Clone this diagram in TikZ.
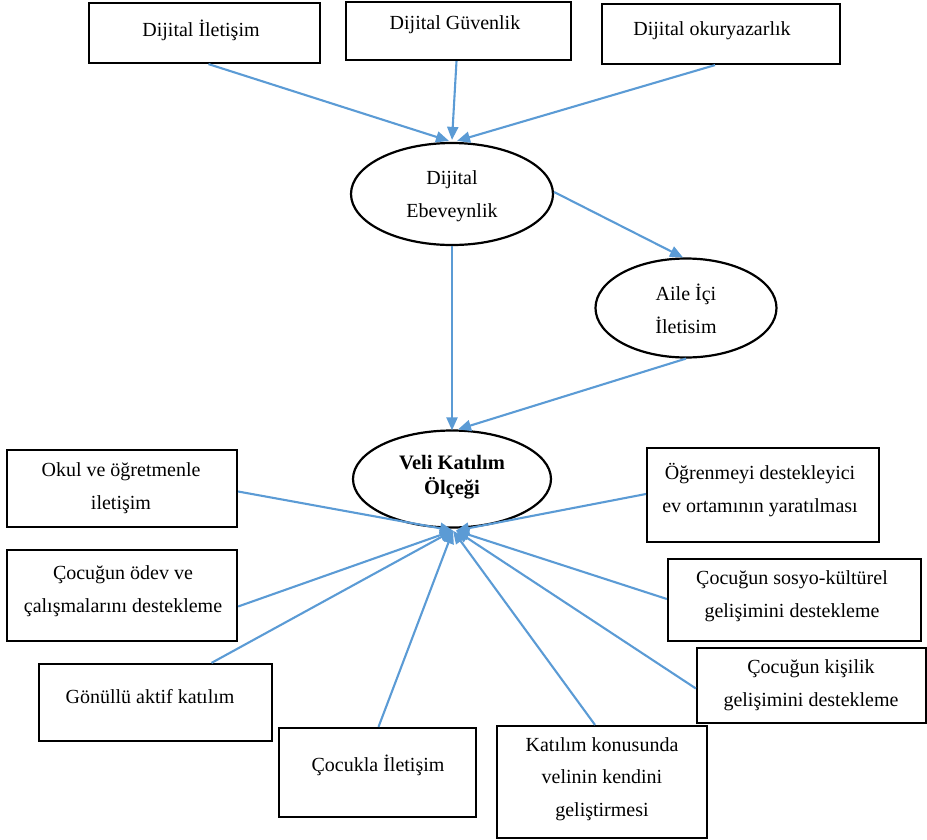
\documentclass[tikz,border=0pt]{standalone}
\usepackage{fontspec}
\setmainfont{Liberation Serif}
\usetikzlibrary{arrows.meta,shapes.geometric,calc}
\definecolor{linkblue}{HTML}{5B9BD5}
\tikzset{
  box/.style={draw=black, line width=2.2pt, rectangle, inner sep=0pt},
  oval/.style={draw=black, line width=2.2pt, ellipse, inner sep=0pt},
  txt/.style={font=\fontsize{20}{32.5}\selectfont, align=center, inner sep=0pt},
  arr/.style={draw=linkblue, line width=2.1pt, -{Triangle[length=13pt,width=11pt]}}
}
\newcommand{\boxat}[5]{% name, x1, y1, x2, y2
  \node[box, minimum width={#4-#2}, minimum height={#5-#3}] (#1) at ({(#2+#4)/2},{(#3+#5)/2}) {};}
\begin{document}
\begin{tikzpicture}[x=1pt,y=-1pt]
\useasboundingbox (0,0) rectangle (927,839);

% top row: the three digital components
\boxat{ilet}{89}{3}{320}{63}
\node[txt] (iletT) at (201,30) {Dijital İletişim};
\boxat{guv}{346}{2}{571}{60}
\node[txt] (guvT) at (455,25) {Dijital Güvenlik};
\boxat{okur}{602}{4}{840}{64}
\node[txt] (okurT) at (712,31) {Dijital okuryazarlık};

% ellipses
\node[oval, minimum width=202, minimum height=102] (ebe) at (452,194) {};
\node[txt] (ebeT) at (452,196) {Dijital\\Ebeveynlik};
\node[oval, minimum width=181, minimum height=99] (aile) at (686,308) {};
\node[txt] (aileT) at (686,309) {Aile İçi\\İletisim};
\node[oval, minimum width=198, minimum height=97] (veli) at (452,479) {};
\node[txt, font=\fontsize{20.5}{25}\selectfont\bfseries] (veliT) at (452,477) {Veli Katılım\\Ölçeği};

% left boxes
\boxat{okul}{7}{450}{237}{527}
\node[txt] (okulT) at (121,488) {Okul ve öğretmenle\\iletişim};
\boxat{odev}{7}{550}{237}{641}
\node[txt] (odevT) at (123,591) {Çocuğun ödev ve\\çalışmalarını destekleme};
\boxat{gon}{39}{664}{272}{741}
\node[txt] (gonT) at (150,697) {Gönüllü aktif katılım};
\boxat{cock}{279}{728}{476}{817}
\node[txt] (cockT) at (378,765) {Çocukla İletişim};

% right and bottom boxes
\boxat{ogr}{647}{448}{879}{542}
\node[txt] (ogrT) at (760,490) {Öğrenmeyi destekleyici\\ev ortamının yaratılması};
\boxat{sos}{668}{559}{921}{641}
\node[txt] (sosT) at (792,596) {Çocuğun sosyo-kültürel\\gelişimini destekleme};
\boxat{kis}{697}{648}{926}{723}
\node[txt] (kisT) at (811,685) {Çocuğun kişilik\\gelişimini destekleme};
\boxat{kat}{497}{726}{707}{838}
\node[txt] (katT) at (602,779) {Katılım konusunda\\velinin kendini\\geliştirmesi};

% meeting points of the connectors
\coordinate (topL) at ($(ebe.north)+(-3,-1)$);
\coordinate (topM) at ($(ebe.north)+(0,-2)$);
\coordinate (topR) at ($(ebe.north)+(5,-1)$);
\coordinate (hub) at ($(veli.south)+(1,2)$);

% connectors
\draw[arr] ([xshift=4]ilet.south) -- (topL);
\draw[arr] ([xshift=-2]guv.south) -- (topM);
\draw[arr] ([xshift=-6]okur.south) -- (topR);
\draw[arr] ([yshift=2]ebe.east) -- ([xshift=-3]aile.north);
\draw[arr] (ebe.south) -- ([yshift=-1]veli.north);
\draw[arr] (aile.south) -- ([xshift=6]veli.north);

\draw[arr] ([yshift=-3]okul.east) -- (hub);
\draw[arr] ([yshift=-11]odev.east) -- (hub);
\draw[arr] ([xshift=56]gon.north) -- (hub);
\draw[arr] ([xshift=1]cock.north) -- (hub);
\draw[arr] ([xshift=-7]kat.north) -- (hub);
\draw[arr] ([yshift=1]ogr.west) -- ([xshift=3]hub);
\draw[arr] ([yshift=1]sos.west) -- ([xshift=3]hub);
\draw[arr] ([yshift=-3]kis.west) -- ([xshift=3]hub);
\end{tikzpicture}
\end{document}
